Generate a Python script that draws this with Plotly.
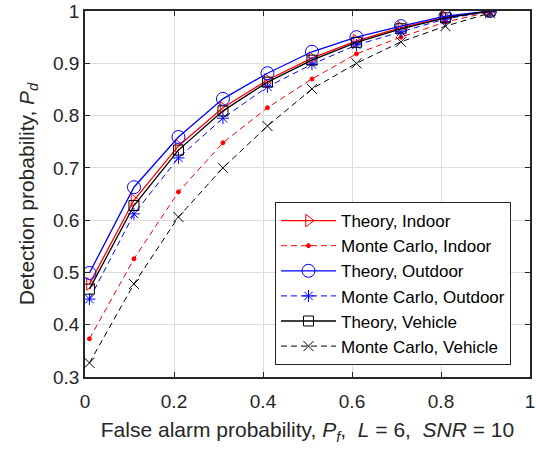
import plotly.graph_objects as go

pf = [0.01, 0.11, 0.21, 0.31, 0.41, 0.51, 0.61, 0.71, 0.81, 0.91]
theory_indoor = [0.478, 0.638, 0.742, 0.815, 0.868, 0.910, 0.943, 0.968, 0.988, 1.0]
mc_indoor = [0.373, 0.526, 0.654, 0.748, 0.815, 0.870, 0.918, 0.950, 0.979, 0.998]
theory_outdoor = [0.499, 0.663, 0.759, 0.832, 0.881, 0.922, 0.950, 0.971, 0.990, 1.0]
mc_outdoor = [0.449, 0.612, 0.719, 0.795, 0.855, 0.898, 0.935, 0.960, 0.985, 0.999]
theory_vehicle = [0.468, 0.628, 0.734, 0.809, 0.864, 0.906, 0.940, 0.966, 0.987, 1.0]
mc_vehicle = [0.327, 0.478, 0.606, 0.700, 0.780, 0.851, 0.900, 0.941, 0.971, 0.996]

x_ticks = [0, 0.2, 0.4, 0.6, 0.8, 1]
y_ticks = [0.3, 0.4, 0.5, 0.6, 0.7, 0.8, 0.9, 1]

RED = "#ff0000"
BLUE = "#0000ff"
BLACK = "#000000"
FONT = "Liberation Sans, Arial, Helvetica"
AXC = "#262626"

series = [
    ("Theory, Indoor", theory_indoor, RED, "solid", "triangle-right-open", 11, 1.3),
    ("Monte Carlo, Indoor", mc_indoor, RED, "dash", "circle", 4, 1.0),
    ("Theory, Outdoor", theory_outdoor, BLUE, "solid", "circle-open", 13, 1.3),
    ("Monte Carlo, Outdoor", mc_outdoor, BLUE, "dash", "asterisk-open", 10, 1.0),
    ("Theory, Vehicle", theory_vehicle, BLACK, "solid", "square-open", 10, 1.3),
    ("Monte Carlo, Vehicle", mc_vehicle, BLACK, "dash", "x-thin-open", 10, 1.0),
]

fig = go.Figure()
for name, ys, color, dash, sym, size, lw in series:
    fig.add_trace(go.Scatter(
        x=pf, y=ys, name=name, mode="lines+markers",
        line=dict(color=color, dash=dash if dash == "solid" else "6px,4px", width=lw),
        marker=dict(symbol=sym, size=size, color=color,
                    line=dict(color=color, width=1)),
    ))

axis_common = dict(
    showgrid=True, gridcolor="#dcdcdc", gridwidth=1,
    showline=True, linecolor=AXC, linewidth=1.5, mirror="ticks",
    ticks="inside", ticklen=5, tickcolor=AXC, tickwidth=1.3,
    zeroline=False, automargin=False, ticklabeloverflow="allow",
    tickfont=dict(family=FONT, size=19, color=AXC),
)

fig.update_xaxes(range=[0, 1], tickvals=x_ticks, ticktext=[f"{v:g}" for v in x_ticks],
                 ticklabelstandoff=6,
                 title=dict(text="False alarm probability, <i>P</i><sub><i>f</i></sub>,  <i>L</i> = 6,  <i>SNR</i> = 10",
                            font=dict(family=FONT, size=21, color=AXC),
                            standoff=12),
                 **axis_common)
fig.update_yaxes(range=[0.3, 1], tickvals=y_ticks, ticktext=[f"{v:g}" for v in y_ticks],
                 title=dict(text="Detection probability, <i>P</i><sub><i>d</i></sub>",
                            font=dict(family=FONT, size=21, color=AXC),
                            standoff=13),
                 **axis_common)

fig.update_layout(
    width=536, height=451,
    margin=dict(l=85, r=6, t=11, b=74),
    plot_bgcolor="white", paper_bgcolor="white",
    legend=dict(
        x=0.427, y=0.478, xanchor="left", yanchor="top",
        bgcolor="white", bordercolor=AXC, borderwidth=1,
        font=dict(family=FONT, size=17, color="#000000"),
        itemwidth=55, tracegroupgap=0,
    ),
)

fig.write_html("out.html", config={"displayModeBar": False},
               post_script="document.body.style.margin='0px';")
